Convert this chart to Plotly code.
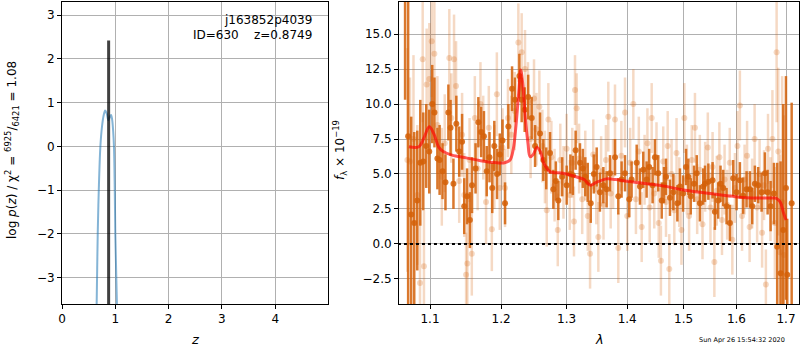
import plotly.graph_objects as go

# ---------------- data: left panel (redshift PDF) ----------------
pz_z = [0.65, 0.66, 0.67, 0.69, 0.72, 0.75, 0.78, 0.81, 0.84, 0.87, 0.90, 0.92, 0.94, 0.96, 0.975, 0.99, 1.00, 1.03]
pz_logp = [-3.6, -2.8, -2.0, -1.0, 0.0, 0.45, 0.70, 0.82, 0.75, 0.60, 0.68, 0.72, 0.62, 0.35, 0.0, -1.0, -2.0, -3.6]
z_best = 0.8749
z_best_top = 2.42
z_ticks = [0, 1, 2, 3, 4]
logp_ticks = [-3, -2, -1, 0, 1, 2, 3]

# ---------------- data: right panel (spectrum) ----------------
dark_wave = [1.067, 1.071, 1.075, 1.079, 1.083, 1.087, 1.091, 1.095, 1.099, 1.103,
             1.106, 1.110, 1.113, 1.117, 1.121, 1.125, 1.128, 1.132, 1.136, 1.140,
             1.144, 1.147, 1.151, 1.155, 1.158, 1.163, 1.167, 1.171, 1.175, 1.179,
             1.183, 1.187, 1.190, 1.194, 1.198, 1.202, 1.2057, 1.2106, 1.2161, 1.2205,
             1.2270, 1.2305, 1.2350, 1.2403, 1.2457, 1.2508, 1.2584, 1.2635, 1.2680, 1.2739,
             1.2791, 1.2830, 1.2869, 1.2930, 1.3001, 1.3060, 1.3100, 1.3144, 1.3214, 1.3260,
             1.3300, 1.3340, 1.3389, 1.3440, 1.3487, 1.3540, 1.3597, 1.3652, 1.3708, 1.3793,
             1.3848, 1.3904, 1.3962, 1.4035, 1.4075, 1.4163, 1.4220, 1.4277, 1.4336, 1.4381,
             1.4441, 1.4482, 1.4541, 1.4603, 1.4644, 1.4680, 1.4751, 1.4812, 1.4885, 1.4933,
             1.4990, 1.5044, 1.5086, 1.5131, 1.5192, 1.5242, 1.5301, 1.5363, 1.5397, 1.5460,
             1.5540, 1.5584, 1.5648, 1.5692, 1.5744, 1.5808, 1.5873, 1.5937, 1.6003, 1.6068,
             1.6133, 1.6200, 1.6266, 1.6312, 1.6365, 1.6432, 1.6500, 1.6567, 1.6622, 1.6683,
             1.6751, 1.6818, 1.6888, 1.6943, 1.6999, 1.7026, 1.7118]
dark_flux = [20.0, 7.7, 2.1, 1.5, 3.1, 5.8, 5.9, 7.0, 6.6, 10.0,
             9.4, 6.1, 6.0, 5.2, 4.4, 9.4, 8.3, 4.3, 8.6, 6.6,
             7.3, 2.7, 3.4, 1.7, 4.2, 5.4, 8.7, 8.0, 7.7, 5.2,
             6.2, 4.0, 7.0, 5.0, 6.4, 7.4, 2.9, 8.4, 11.1, 10.3,
             12.0, 10.3, 9.6, 10.5, 9.0, 7.0, 7.9, 6.0, 5.4, 6.5,
             3.9, 4.5, 3.1, 4.8, 4.2, 5.0, 4.9, 6.7, 5.8, 5.4,
             4.8, 4.4, 2.9, 5.0, 5.5, 3.7, 4.2, 3.9, 5.05, 6.2,
             3.4, 4.6, 5.05, 3.2, 4.6, 5.8, 4.1, 5.3, 4.6, 5.5,
             4.2, 6.2, 5.05, 3.1, 4.2, 4.8, 3.3, 3.7, 2.9, 4.1,
             3.6, 5.5, 4.8, 3.4, 4.3, 5.05, 2.9, 4.1, 4.3, 4.45,
             4.55, 2.3, 3.1, 4.3, 4.0, 2.7, 1.5, 4.7, 3.7, 4.55,
             3.45, 3.9, 3.9, 2.7, 4.3, 4.2, 3.7, 5.05, 3.7, 2.7,
             3.6, -0.2, -2.1, 1.0, 4.0, -2.2, 2.9]
dark_err = [9.7, 12.0, 7.0, 6.5, 5.0, 4.5, 3.5, 3.0, 3.0, 2.8,
            2.5, 2.2, 2.5, 2.0, 2.0, 2.0, 2.0, 1.8, 2.0, 1.8,
            2.0, 2.0, 2.0, 2.0, 2.0, 1.8, 1.8, 1.8, 1.8, 1.8,
            1.8, 1.8, 1.8, 1.8, 1.5, 1.5, 1.5, 1.6, 1.6, 1.6,
            1.6, 1.6, 1.6, 1.6, 1.5, 1.5, 1.5, 1.5, 1.5, 1.5,
            1.4, 1.4, 1.4, 1.4, 1.4, 1.4, 1.4, 1.4, 1.4, 1.4,
            1.4, 1.4, 1.4, 1.4, 1.4, 1.4, 1.3, 1.3, 1.3, 1.3,
            1.3, 1.3, 1.3, 1.3, 1.3, 1.3, 1.3, 1.3, 1.3, 1.3,
            1.3, 1.3, 1.3, 1.3, 1.3, 1.3, 1.3, 1.3, 1.3, 1.3,
            1.3, 1.3, 1.3, 1.3, 1.3, 1.3, 1.3, 1.3, 1.3, 1.3,
            1.3, 1.3, 1.3, 1.3, 1.3, 1.3, 1.3, 1.3, 1.3, 1.3,
            1.3, 1.3, 1.3, 1.3, 1.3, 1.3, 1.4, 1.5, 1.6, 1.8,
            2.2, 6.0, 8.0, 9.0, 8.0, 4.0, 7.2]

light_wave = [1.0700, 1.0734, 1.0780, 1.0830, 1.0866, 1.0902, 1.0919, 1.0955, 1.0991, 1.1023,
              1.1059, 1.1100, 1.1160, 1.1200, 1.1263, 1.1290, 1.1328, 1.1356, 1.1400, 1.1440,
              1.1470, 1.1496, 1.1514, 1.1545, 1.1577, 1.1620, 1.1660, 1.1700, 1.1740, 1.1780,
              1.1820, 1.1864, 1.1900, 1.1937, 1.1980, 1.2020, 1.2057, 1.2100, 1.2150, 1.2200,
              1.2255, 1.2305, 1.2355, 1.2400, 1.2440, 1.2492, 1.2530, 1.2574, 1.2620, 1.2660,
              1.2688, 1.2713, 1.2760, 1.2810, 1.2860, 1.2900, 1.2950, 1.3000, 1.3050, 1.3090,
              1.3118, 1.3134, 1.3161, 1.3200, 1.3250, 1.3300, 1.3340, 1.3378, 1.3430, 1.3480,
              1.3514, 1.3560, 1.3600, 1.3640, 1.3680, 1.3720, 1.3760, 1.3792, 1.3848, 1.3900,
              1.3962, 1.4000, 1.4050, 1.4105, 1.4150, 1.4200, 1.4250, 1.4300, 1.4350, 1.4390,
              1.4425, 1.4470, 1.4510, 1.4550, 1.4589, 1.4630, 1.4680, 1.4710, 1.4739, 1.4780,
              1.4830, 1.4870, 1.4920, 1.4960, 1.5013, 1.5060, 1.5100, 1.5150, 1.5209, 1.5250,
              1.5300, 1.5350, 1.5400, 1.5450, 1.5500, 1.5540, 1.5574, 1.5620, 1.5670, 1.5720,
              1.5770, 1.5820, 1.5870, 1.5920, 1.5970, 1.6020, 1.6068, 1.6110, 1.6160, 1.6210,
              1.6260, 1.6310, 1.6360, 1.6410, 1.6460, 1.6510, 1.6550, 1.6587, 1.6630, 1.6680,
              1.6720, 1.6770, 1.6806, 1.6840, 1.6874, 1.6920, 1.6960]
light_flux = [6.0, 5.9, 7.5, 3.5, -2.8, 13.2, -1.6, 11.4, 11.8, 14.5,
              13.6, 8.5, 4.8, 7.2, 13.3, 9.0, 13.2, 11.3, 4.5, 7.8,
              3.5, -2.2, -1.4, 6.0, -0.7, 9.0, 5.4, 10.0, 7.6, 3.0,
              8.3, 1.05, 5.5, 10.7, 4.0, 6.9, 4.0, 9.0, 7.8, 9.5,
              14.4, 13.7, 12.5, 10.2, 7.5, 10.4, 8.2, 9.8, 7.0, 5.5,
              2.4, 8.9, 6.2, 4.2, 1.0, 6.0, 4.4, 6.8, 3.5, 5.8,
              1.6, 11.0, 9.7, 6.1, 3.2, 5.6, 2.0, -0.7, 6.4, 3.9,
              0.5, 5.2, 2.8, 6.0, 9.1, 3.6, 5.0, 8.9, -0.3, 6.3,
              9.4, 2.0, 5.8, 10.0, 3.2, 6.6, 1.2, 5.3, 7.2, 2.6,
              9.0, 3.6, 6.2, 1.5, -1.2, 5.9, 3.0, 7.0, -1.8, 5.0,
              2.4, 6.5, 3.7, 1.0, 9.0, 4.6, 2.0, 6.0, 8.3, 3.2,
              5.3, 1.4, 4.8, 6.9, 2.6, 5.5, -1.3, 3.8, 6.2, 1.7,
              4.6, 2.8, 5.8, 0.3, 4.0, 7.0, 9.9, 2.0, 4.6, 6.3,
              1.2, 3.6, 7.5, 2.6, 5.0, 0.8, 4.2, -2.9, 6.8, 3.2,
              7.5, 1.5, 13.7, 6.6, -0.6, 3.0, -0.8]
light_err = [8.0, 6.0, 6.0, 5.0, 4.5, 4.5, 4.0, 4.0, 4.0, 4.0,
             4.0, 3.5, 3.5, 3.5, 3.5, 3.2, 3.2, 3.2, 3.0, 3.0,
             3.0, 3.0, 3.0, 3.0, 3.0, 3.0, 3.0, 3.0, 3.0, 3.0,
             3.0, 3.0, 3.0, 3.0, 3.0, 2.8, 2.8, 2.8, 2.8, 2.8,
             2.8, 2.8, 2.8, 2.8, 2.8, 2.8, 2.6, 2.6, 2.6, 2.6,
             2.6, 2.6, 2.6, 2.6, 2.6, 2.6, 2.6, 2.5, 2.5, 2.5,
             2.5, 2.5, 2.5, 2.5, 2.5, 2.5, 2.5, 2.5, 2.5, 2.5,
             2.5, 2.5, 2.5, 2.5, 2.5, 2.5, 2.5, 2.5, 2.5, 2.5,
             2.5, 2.5, 2.5, 2.5, 2.5, 2.5, 2.5, 2.5, 2.5, 2.5,
             2.5, 2.5, 2.5, 2.5, 2.5, 2.5, 2.5, 2.5, 2.5, 2.5,
             2.5, 2.5, 2.5, 2.5, 2.5, 2.5, 2.5, 2.5, 2.5, 2.5,
             2.5, 2.5, 2.5, 2.5, 2.5, 2.5, 2.5, 2.5, 2.5, 2.5,
             2.5, 2.5, 2.5, 2.5, 2.5, 2.5, 2.5, 2.5, 2.5, 2.5,
             2.5, 2.5, 2.5, 2.5, 2.5, 2.5, 2.5, 2.5, 2.5, 3.0,
             3.5, 4.0, 5.0, 6.0, 7.0, 9.0, 10.0]

model_wave = [1.072, 1.085, 1.092, 1.099, 1.105, 1.112, 1.118, 1.13, 1.15, 1.17,
              1.194, 1.205, 1.213, 1.218, 1.222, 1.226, 1.229, 1.232, 1.236, 1.240,
              1.2432, 1.248, 1.2536, 1.259, 1.264, 1.2739, 1.2947, 1.3187, 1.328, 1.3386,
              1.348, 1.3655, 1.38, 1.40, 1.4624, 1.50, 1.5887, 1.62, 1.674, 1.680,
              1.688, 1.695, 1.70]
model_flux = [6.95, 6.95, 7.6, 8.38, 7.9, 6.9, 6.6, 6.35, 6.15, 5.95,
              5.8, 5.8, 6.0, 6.8, 8.5, 10.8, 12.43, 11.5, 9.0, 7.2,
              6.24, 6.4, 6.9, 6.6, 5.8, 5.17, 5.05, 4.75, 4.6, 4.2,
              4.4, 4.65, 4.6, 4.48, 4.15, 3.85, 3.42, 3.3, 3.28, 3.26,
              3.0, 2.2, 1.71]

lam_ticks = [1.1, 1.2, 1.3, 1.4, 1.5, 1.6, 1.7]
flux_ticks = [-2.5, 0.0, 2.5, 5.0, 7.5, 10.0, 12.5, 15.0]

# ---------------- figure ----------------
W, H = 800, 350
ML, MR, MT, MB = 62, 1, 2, 46
PW = W - ML - MR
PH = H - MT - MB
FONT = "DejaVu Sans, Verdana, sans-serif"
GRID = "#b0b0b0"

def dom_x(p):
    return (p - ML) / PW

def px_x(p):
    return (p - ML) / PW

def px_y(p):
    return 1 - (p - MT) / PH

fig = go.Figure()

# left panel
fig.add_trace(go.Scatter(x=pz_z, y=pz_logp, mode="lines", line=dict(color="rgba(31,119,180,0.55)", width=2, shape="spline"),
                         xaxis="x", yaxis="y", showlegend=False, hoverinfo="skip"))
fig.add_trace(go.Scatter(x=[z_best, z_best], y=[-3.6, z_best_top], mode="lines", line=dict(color="rgba(0,0,0,0.75)", width=3),
                         xaxis="x", yaxis="y", showlegend=False, hoverinfo="skip"))

# right panel
ORANGE = "212,96,8"
fig.add_trace(go.Scatter(x=light_wave, y=light_flux, mode="markers",
                         marker=dict(color=f"rgba({ORANGE},0.24)", size=6),
                         error_y=dict(type="data", array=light_err, visible=True, color=f"rgba({ORANGE},0.24)", thickness=2.5, width=0),
                         xaxis="x2", yaxis="y2", showlegend=False, hoverinfo="skip"))
fig.add_trace(go.Scatter(x=dark_wave, y=dark_flux, mode="markers",
                         marker=dict(color=f"rgba({ORANGE},0.85)", size=6),
                         error_y=dict(type="data", array=dark_err, visible=True, color=f"rgba({ORANGE},0.85)", thickness=2.5, width=0),
                         xaxis="x2", yaxis="y2", showlegend=False, hoverinfo="skip"))
fig.add_trace(go.Scatter(x=model_wave, y=model_flux, mode="lines", line=dict(color="rgba(255,0,0,0.65)", width=3, shape="spline"),
                         xaxis="x2", yaxis="y2", showlegend=False, hoverinfo="skip"))
fig.add_trace(go.Scatter(x=[1.05, 1.75], y=[0, 0], mode="lines", line=dict(color="black", width=2, dash="dot"),
                         xaxis="x2", yaxis="y2", showlegend=False, hoverinfo="skip"))

axis_common = dict(showline=True, linecolor="black", linewidth=1, mirror=True, ticks="outside", ticklen=4,
                   tickcolor="black", showgrid=True, gridcolor=GRID, gridwidth=1, zeroline=False, automargin=False,
                   tickfont=dict(family=FONT, size=12, color="black"))

fig.update_layout(
    width=W, height=H, margin=dict(l=ML, r=MR, t=MT, b=MB),
    paper_bgcolor="white", plot_bgcolor="white",
    font=dict(family=FONT, size=12, color="black"),
    xaxis=dict(domain=[0, dom_x(328)], range=[0, 4.99], tickvals=z_ticks, anchor="y", **axis_common),
    yaxis=dict(domain=[0, 1], range=[-3.6, 3.3], tickvals=logp_ticks, anchor="x", **axis_common),
    xaxis2=dict(domain=[dom_x(399), 1], type="log", range=[0.02493, 0.23735], tickvals=lam_ticks,
                ticktext=[f"{v:.1f}" for v in lam_ticks], anchor="y2", **axis_common),
    yaxis2=dict(domain=[0, 1], range=[-4.3, 17.3], tickvals=flux_ticks,
                ticktext=[f"{v:.1f}".replace("-", "\u2212") for v in flux_ticks], anchor="x2", **axis_common),
)

ann = [
    dict(text="j163852p4039", x=px_x(314), y=px_y(20), xanchor="right", yanchor="middle", font=dict(size=12)),
    dict(text="ID=630    z=0.8749", x=px_x(314), y=px_y(35), xanchor="right", yanchor="middle", font=dict(size=12)),
    dict(text="log <i>p</i>(<i>z</i>) / χ<sup>2</sup> = <sup>6925</sup>/<sub>6421</sub> = 1.08", x=px_x(12), y=px_y(150),
         xanchor="center", yanchor="middle", textangle=-90, font=dict(size=12)),
    dict(text="<i>f</i><sub>λ</sub> × 10<sup>−19</sup>", x=px_x(340), y=px_y(150),
         xanchor="center", yanchor="middle", textangle=-90, font=dict(size=12)),
    dict(text="<i>z</i>", x=px_x(195), y=px_y(339), xanchor="center", yanchor="middle", font=dict(size=13)),
    dict(text="<i>λ</i>", x=px_x(599), y=px_y(339), xanchor="center", yanchor="middle", font=dict(size=13)),
    dict(text="Sun Apr 26 15:54:32 2020", x=px_x(742), y=px_y(340), xanchor="center", yanchor="middle", font=dict(size=6.5)),
]
for a in ann:
    a.update(xref="paper", yref="paper", showarrow=False)
    fig.add_annotation(**a)

fig.write_html("out.html", config={"displayModeBar": False},
               post_script="document.body.style.margin='0px';document.body.style.padding='0px';")
